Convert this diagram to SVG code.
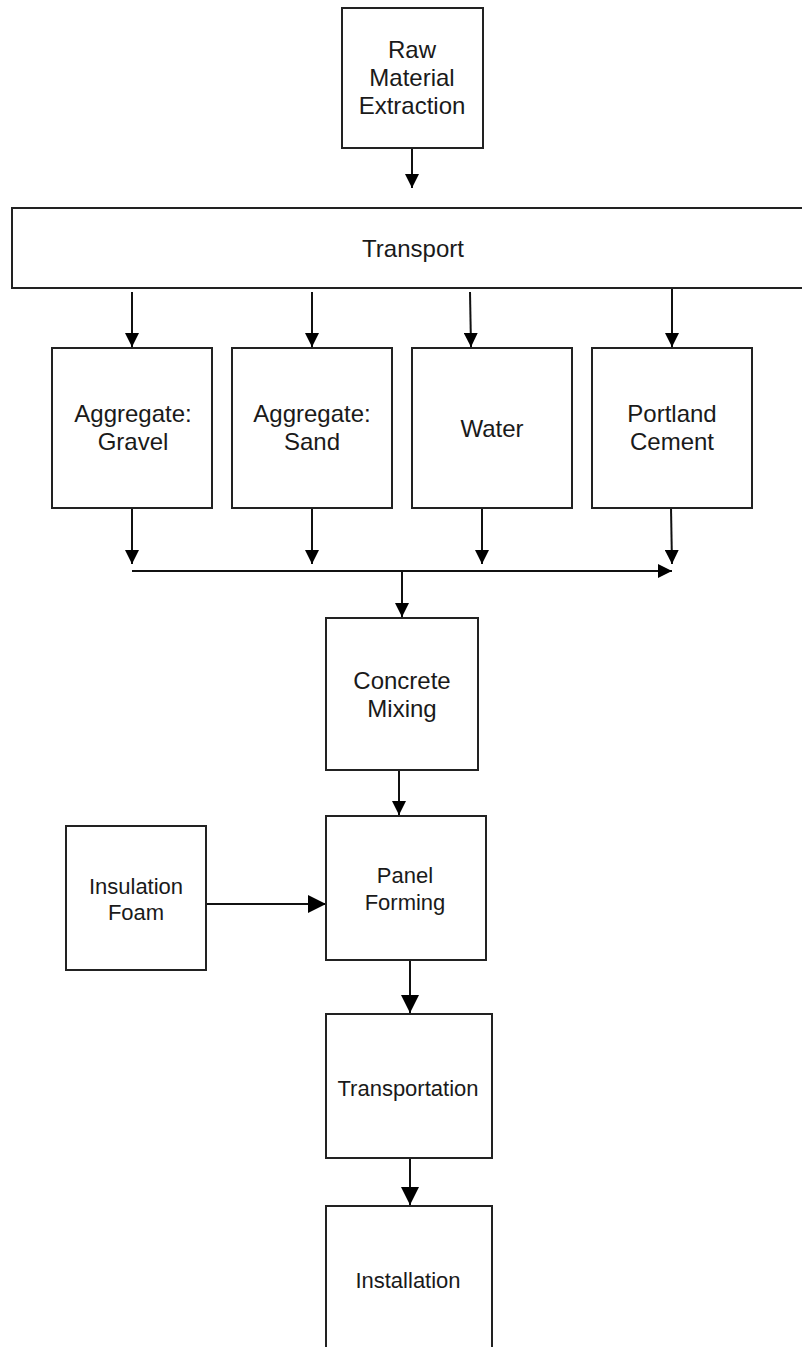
<svg xmlns="http://www.w3.org/2000/svg" width="802" height="1347" viewBox="0 0 802 1347">
<style>
.box{fill:#fff;stroke:#222;stroke-width:2}
.t{font-family:"Liberation Sans",Arial,sans-serif;font-size:24px;fill:#1a1a1a;text-anchor:middle}
.s{font-size:22px}
.c{fill:none;stroke:#111;stroke-width:2}
</style>
<defs>
<marker id="ah" markerUnits="userSpaceOnUse" markerWidth="14" markerHeight="14" refX="14" refY="7" orient="auto">
<path d="M0,0 L14,7 L0,14 z" fill="#000"/>
</marker>
<marker id="ah2" markerUnits="userSpaceOnUse" markerWidth="18" markerHeight="18" refX="18" refY="9" orient="auto">
<path d="M0,0 L18,9 L0,18 z" fill="#000"/>
</marker>
</defs>
<rect width="802" height="1347" fill="#fff"/>
<g id="connectors">
<line class="c" x1="412" y1="148" x2="412" y2="188" marker-end="url(#ah)"/>
<line class="c" x1="132" y1="292" x2="132" y2="347" marker-end="url(#ah)"/>
<line class="c" x1="312" y1="292" x2="312" y2="347" marker-end="url(#ah)"/>
<line class="c" x1="470" y1="292" x2="471" y2="347" marker-end="url(#ah)"/>
<line class="c" x1="672" y1="288" x2="672" y2="347" marker-end="url(#ah)"/>
<line class="c" x1="132" y1="508" x2="132" y2="564" marker-end="url(#ah)"/>
<line class="c" x1="312" y1="508" x2="312" y2="564" marker-end="url(#ah)"/>
<line class="c" x1="482" y1="508" x2="482" y2="564" marker-end="url(#ah)"/>
<line class="c" x1="671" y1="508" x2="672" y2="564" marker-end="url(#ah)"/>
<line class="c" x1="132" y1="571" x2="672" y2="571" marker-end="url(#ah)"/>
<line class="c" x1="402" y1="571" x2="402" y2="617" marker-end="url(#ah)"/>
<line class="c" x1="399" y1="770" x2="399" y2="815" marker-end="url(#ah)"/>
<line class="c" x1="206" y1="904" x2="326" y2="904" stroke-width="2.5" marker-end="url(#ah2)"/>
<line class="c" x1="410" y1="960" x2="410" y2="1013" stroke-width="2.5" marker-end="url(#ah2)"/>
<line class="c" x1="410" y1="1158" x2="410" y2="1205" stroke-width="2.5" marker-end="url(#ah2)"/>
</g>
<g id="raw">
<rect class="box" x="342" y="8" width="141" height="140"/>
<text class="t" x="412" y="58">Raw</text>
<text class="t" x="412" y="86">Material</text>
<text class="t" x="412" y="114">Extraction</text>
</g>
<g id="transport">
<rect class="box" x="12" y="208" width="800" height="80"/>
<text class="t" x="413" y="257">Transport</text>
</g>
<g id="gravel">
<rect class="box" x="52" y="348" width="160" height="160"/>
<text class="t" x="133" y="422">Aggregate:</text>
<text class="t" x="133" y="450">Gravel</text>
</g>
<g id="sand">
<rect class="box" x="232" y="348" width="160" height="160"/>
<text class="t" x="312" y="422">Aggregate:</text>
<text class="t" x="312" y="450">Sand</text>
</g>
<g id="water">
<rect class="box" x="412" y="348" width="160" height="160"/>
<text class="t" x="492" y="437">Water</text>
</g>
<g id="cement">
<rect class="box" x="592" y="348" width="160" height="160"/>
<text class="t" x="672" y="422">Portland</text>
<text class="t" x="672" y="450">Cement</text>
</g>
<g id="mixing">
<rect class="box" x="326" y="618" width="152" height="152"/>
<text class="t" x="402" y="689">Concrete</text>
<text class="t" x="402" y="717">Mixing</text>
</g>
<g id="insulation">
<rect class="box" x="66" y="826" width="140" height="144"/>
<text class="t s" x="136" y="894">Insulation</text>
<text class="t s" x="136" y="920">Foam</text>
</g>
<g id="panel">
<rect class="box" x="326" y="816" width="160" height="144"/>
<text class="t s" x="405" y="883">Panel</text>
<text class="t s" x="405" y="910">Forming</text>
</g>
<g id="transportation">
<rect class="box" x="326" y="1014" width="166" height="144"/>
<text class="t s" x="408" y="1096">Transportation</text>
</g>
<g id="installation">
<rect class="box" x="326" y="1206" width="166" height="150"/>
<text class="t s" x="408" y="1288">Installation</text>
</g>
</svg>
